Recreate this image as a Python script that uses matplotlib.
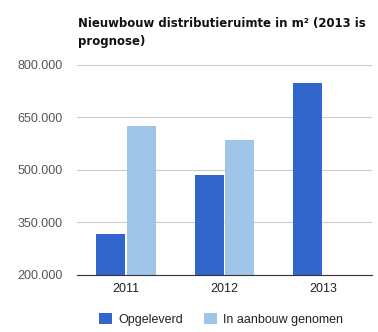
import matplotlib
matplotlib.use("Agg")
import matplotlib.pyplot as plt
from matplotlib.patches import Patch
import numpy as np

years = ["2011", "2012", "2013"]
opgeleverd = [315000, 485000, 748000]
in_aanbouw = [624000, 586000, None]
yticks = [200000, 350000, 500000, 650000, 800000]
ytick_labels = ["200.000", "350.000", "500.000", "650.000", "800.000"]
series_names = ["Opgeleverd", "In aanbouw genomen"]
title = "Nieuwbouw distributieruimte in m² (2013 is\nprognose)"

c_dark = "#3366cc"
c_light = "#9fc5e8"

fig = plt.figure(figsize=(3.78, 3.32), dpi=100)
ax = fig.add_axes([77/378, 1-274.5/332, (372-77)/378, (274.5-65)/332])

x = np.arange(len(years))
off = 0.155
w = 0.295
ax.bar(x - off, opgeleverd, width=w, color=c_dark, zorder=3)
xs = [xi + off for xi, v in zip(x, in_aanbouw) if v is not None]
vs = [v for v in in_aanbouw if v is not None]
ax.bar(xs, vs, width=w, color=c_light, zorder=3)

ax.set_xlim(-0.5, 2.5)
ax.set_ylim(200000, 800000)
ax.set_yticks(yticks)
ax.set_yticklabels(ytick_labels, family="Liberation Sans", fontsize=9, color="#555555")
ax.set_xticks(x)
ax.set_xticklabels(years, family="Liberation Sans", fontsize=9, color="#222222")
ax.tick_params(axis="y", length=0, pad=10)
ax.tick_params(axis="x", length=0, pad=6)
ax.grid(axis="y", color="#cccccc", linewidth=0.8, zorder=0)
for s in ["top", "right", "left"]:
    ax.spines[s].set_visible(False)
ax.spines["bottom"].set_color("#333333")
ax.spines["bottom"].set_linewidth(0.8)
ax.spines["bottom"].set_zorder(4)

fig.text(78/378, 1-17.5/332, title, family="DejaVu Sans", fontstretch="condensed",
         fontweight="bold", fontsize=9.4, va="top", ha="left", color="#111111",
         linespacing=1.5)

handles = [Patch(facecolor=c_dark, edgecolor="none"), Patch(facecolor=c_light, edgecolor="none")]
fig.legend(handles, series_names, loc="center", bbox_to_anchor=(221/378, 1-319.5/332),
           ncol=2, frameon=False, prop={"family": "Liberation Sans", "size": 9},
           handlelength=1.0, handleheight=1.0, handletextpad=0.5, columnspacing=1.7,
           labelcolor="#222222")

fig.savefig("out.png", dpi=100)
